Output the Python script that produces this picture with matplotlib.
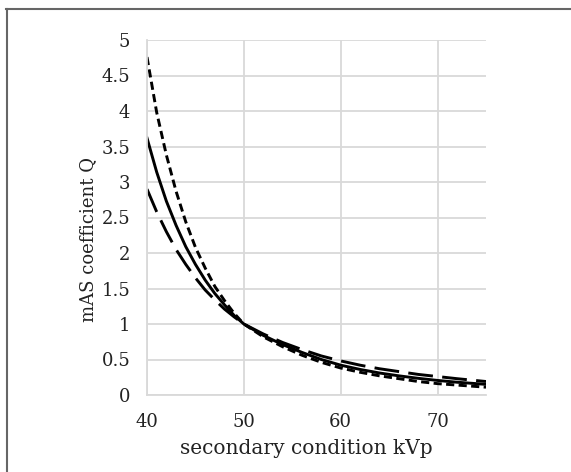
import matplotlib
matplotlib.use("Agg")
import matplotlib.pyplot as plt
from matplotlib.lines import Line2D

# Data
kvp = [40, 41, 42, 43, 44, 45, 46, 47, 48, 49, 50, 52, 54, 56, 58, 60, 62, 64, 66, 68, 70, 72, 75]
q_solid = [3.62, 3.14, 2.73, 2.39, 2.09, 1.84, 1.62, 1.43, 1.27, 1.12, 1.00,
           0.84, 0.71, 0.60, 0.50, 0.42, 0.36, 0.31, 0.27, 0.235, 0.205, 0.18, 0.15]
q_long = [2.90, 2.58, 2.30, 2.05, 1.84, 1.65, 1.48, 1.34, 1.21, 1.10, 1.00,
          0.86, 0.74, 0.64, 0.55, 0.48, 0.42, 0.37, 0.33, 0.29, 0.26, 0.23, 0.19]
q_short = [4.76, 3.98, 3.38, 2.87, 2.44, 2.08, 1.79, 1.53, 1.33, 1.15, 1.00,
           0.82, 0.68, 0.56, 0.46, 0.38, 0.32, 0.27, 0.23, 0.19, 0.16, 0.14, 0.11]

x_ticks = [40, 50, 60, 70]
y_ticks = [0, 0.5, 1, 1.5, 2, 2.5, 3, 3.5, 4, 4.5, 5]
y_tick_labels = ["0", "0.5", "1", "1.5", "2", "2.5", "3", "3.5", "4", "4.5", "5"]

plt.rcParams['font.family'] = ['DejaVu Serif']

W, H = 571, 472
fig = plt.figure(figsize=(W / 100, H / 100), dpi=100)
ax = fig.add_axes([147 / W, 1 - 395 / H, (486 - 147) / W, (395 - 40) / H])

lw = 2.1
ax.plot(kvp, q_short, color='black', lw=lw, dashes=(2.8, 1.5), dash_capstyle='butt')
ax.plot(kvp, q_solid, color='black', lw=lw)
ax.plot(kvp, q_long, color='black', lw=lw, dashes=(8.5, 3.2), dash_capstyle='butt')

ax.set_xlim(40, 75)
ax.set_ylim(0, 5)
ax.set_xticks(x_ticks)
ax.set_yticks(y_ticks)
ax.set_yticklabels(y_tick_labels)
ax.grid(True, color='#d9d9d9', lw=1.3)
ax.set_axisbelow(True)
for s in ['top', 'right']:
    ax.spines[s].set_visible(False)
for s in ['left', 'bottom']:
    ax.spines[s].set_color('#d9d9d9')
    ax.spines[s].set_linewidth(1.3)
ax.tick_params(axis='both', length=0, labelsize=13, colors='#222222')
ax.tick_params(axis='x', pad=13)
ax.tick_params(axis='y', pad=12)

ax.set_xlabel("secondary condition kVp", fontsize=14.5, color='#222222')
ax.xaxis.set_label_coords((306 - 147) / (486 - 147), -(448 - 395) / (395 - 40))
ax.xaxis.label.set_va('center')
ax.set_ylabel("mAS coefficient Q", fontsize=13, color='#222222')
ax.yaxis.set_label_coords(-59 / (486 - 147), (395 - 240) / (395 - 40))
ax.yaxis.label.set_va('center')

# outer frame (left and top edges visible)
fig.add_artist(Line2D([6.5 / W, 6.5 / W], [0, 1 - 9 / H], transform=fig.transFigure, color='#666666', lw=1.5))
fig.add_artist(Line2D([6 / W, 1], [1 - 9 / H, 1 - 9 / H], transform=fig.transFigure, color='#666666', lw=1.5))

fig.savefig("out.png", dpi=100)
